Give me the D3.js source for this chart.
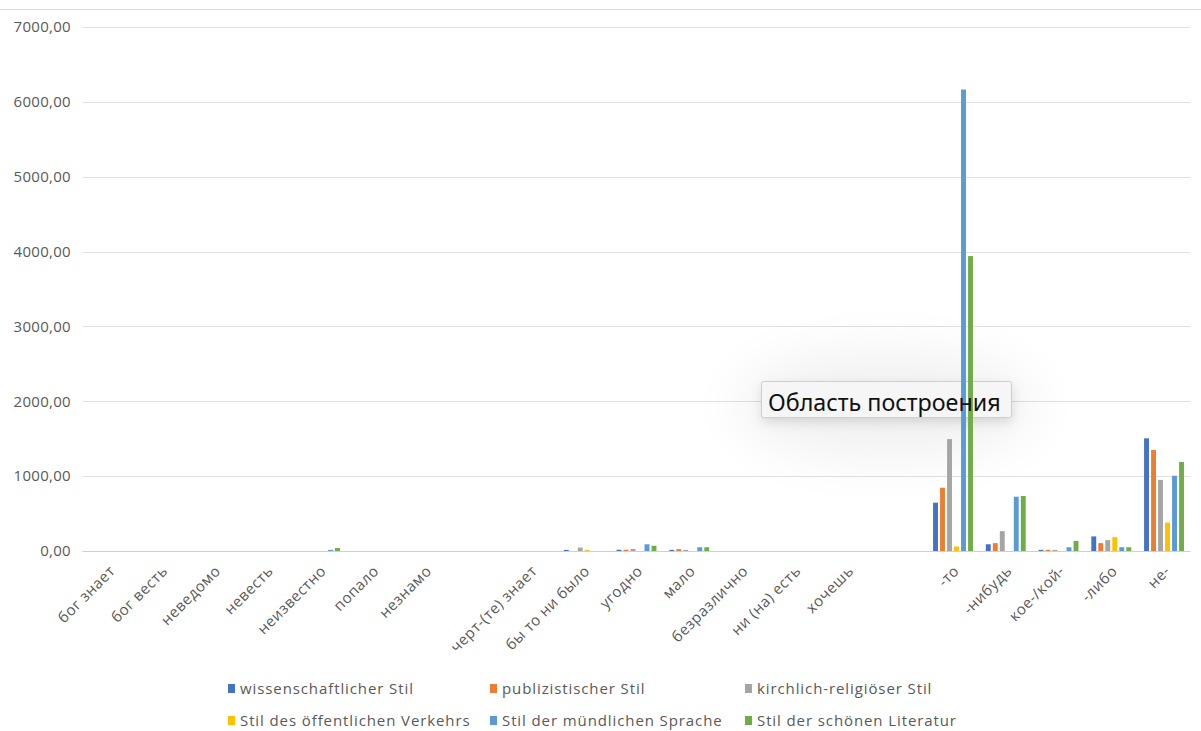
<!DOCTYPE html>
<html>
<head>
<meta charset="utf-8">
<script src="https://cdn.jsdelivr.net/npm/d3@7"></script>
<style>
  html, body { margin: 0; padding: 0; background: #fff; }
  svg { display: block; }
</style>
</head>
<body>
<svg id="chart" width="1201" height="731"></svg>
<script>
// ---- data ----
const categories = ["бог знает","бог весть","неведомо","невесть","неизвестно","попало","незнамо","",
  "черт-(те) знает","бы то ни было","угодно","мало","безразлично","ни (на) есть","хочешь","",
  "-то","-нибудь","кое-/кой-","-либо","не-"];
const seriesNames = ["wissenschaftlicher Stil","publizistischer Stil","kirchlich-religiöser Stil",
  "Stil des öffentlichen Verkehrs","Stil der mündlichen Sprache","Stil der schönen Literatur"];
const seriesColors = ["#4472C4","#ED7D31","#A5A5A5","#FFC000","#5B9BD5","#70AD47"];
const wissenschaftlich = [0,0,0,0,0,0,0,0, 0,15,17,15,0,0,0,0, 645,90,15,195,1505];
const publizistisch    = [0,0,0,0,0,0,0,0, 0,0,17,25,0,0,0,0, 845,105,15,105,1350];
const kirchlich        = [0,0,0,0,0,0,0,0, 0,45,27,15,0,0,0,0, 1495,265,15,145,950];
const oeffentlich      = [0,0,0,0,0,0,0,0, 0,15,0,0,0,0,0,0, 60,0,0,185,380];
const muendlich        = [0,0,0,0,15,0,0,0, 0,0,90,50,0,0,0,0, 6165,725,50,50,1005];
const schoen           = [0,0,0,0,40,0,0,0, 0,0,70,50,0,0,0,0, 3940,735,135,50,1190];
const seriesValues = [wissenschaftlich, publizistisch, kirchlich, oeffentlich, muendlich, schoen];
const yTicks = [0,1000,2000,3000,4000,5000,6000,7000];
const tooltipText = "Область построения";

// ---- layout ----
const svg = d3.select("#chart");
const W = 1201, H = 731;
const x0 = 82.6, x1 = 1190.4, yTop = 27, yBase = 551;
const labelColor = "#595959";
const font = "'Open Sans', 'Noto Sans', sans-serif";

const defs = svg.append("defs");
const blur = defs.append("filter").attr("id","halo").attr("x","-50%").attr("y","-50%").attr("width","200%").attr("height","200%");
blur.append("feGaussianBlur").attr("stdDeviation", 28);
const shadow = defs.append("filter").attr("id","boxshadow").attr("x","-20%").attr("y","-50%").attr("width","140%").attr("height","250%");
shadow.append("feGaussianBlur").attr("stdDeviation", 6);

// top border line
svg.append("line").attr("x1",0).attr("x2",W).attr("y1",9.5).attr("y2",9.5)
  .attr("stroke","#d9d9d9").attr("stroke-width",1);

const x = d3.scaleBand().domain(d3.range(categories.length)).range([x0, x1]).paddingInner(0).paddingOuter(0);
const xs = d3.scaleBand().domain(d3.range(seriesNames.length)).range([0, 42]).paddingInner(0.3).paddingOuter(0.15);
const y = d3.scaleLinear().domain([0, 7000]).range([yBase, yTop]);

// gridlines
svg.append("g").selectAll("line").data(yTicks).join("line")
  .attr("x1", x0).attr("x2", x1)
  .attr("y1", d => Math.round(y(d)) + 0.5).attr("y2", d => Math.round(y(d)) + 0.5)
  .attr("stroke", d => d === 0 ? "#d0d0d0" : "#e0e0e0").attr("stroke-width", 1);

// y axis labels
const yAxis = d3.axisLeft(y).tickValues(yTicks).tickSize(0).tickPadding(0)
  .tickFormat(d => d3.format(".2f")(d).replace(".", ","));
const gy = svg.append("g").attr("transform", `translate(71,0)`).call(yAxis);
gy.select(".domain").remove();
gy.selectAll("text").attr("font-family", font).attr("font-size", 15).attr("letter-spacing", 0.3).attr("fill", labelColor);

// halo behind tooltip
svg.append("ellipse").attr("cx", 886).attr("cy", 405).attr("rx", 150).attr("ry", 52)
  .attr("fill", "#000").attr("opacity", 0.06).attr("filter","url(#halo)");

// tooltip box (under bars)
svg.append("rect").attr("x", 762).attr("y", 386).attr("width", 250).attr("height", 36)
  .attr("fill", "#000").attr("opacity", 0.12).attr("filter","url(#boxshadow)");
svg.append("rect").attr("x", 761.5).attr("y", 381.5).attr("width", 250).attr("height", 36).attr("rx", 2)
  .attr("fill", "#f6f6f6").attr("stroke", "#cfcfcf");

// bars
const groups = svg.append("g").selectAll("g").data(seriesValues).join("g")
  .attr("fill", (d, i) => seriesColors[i]);
groups.each(function(vals, si) {
  d3.select(this).selectAll("rect").data(vals.map((v, ci) => ({v, ci}))).join("rect")
    .filter(d => d.v > 0)
    .attr("x", d => x(d.ci) + x.bandwidth()/2 - 21 + xs(si))
    .attr("width", xs.bandwidth())
    .attr("y", d => y(d.v))
    .attr("height", d => yBase - y(d.v));
});

// tooltip text
svg.append("text").attr("x", 768).attr("y", 411).text(tooltipText)
  .attr("font-family", "'Noto Sans', 'Open Sans', sans-serif").attr("font-size", 23.3).attr("fill", "#111");

// category labels
const xAxis = d3.axisBottom(x).tickSize(0).tickPadding(0).tickFormat(i => categories[i]);
const gx = svg.append("g").attr("transform", `translate(0,${yBase})`).call(xAxis);
gx.select(".domain").remove();
gx.selectAll("text")
  .attr("font-family", font).attr("font-size", 15).attr("letter-spacing", 0.5).attr("fill", labelColor)
  .attr("text-anchor", "end").attr("dy", null).attr("y", 0)
  .attr("transform", "translate(7,21) rotate(-45)");

// legend
const legendPos = [[228,689],[490,689],[745,689],[228,721],[490,721],[745,721]];
const lg = svg.append("g").selectAll("g").data(seriesNames).join("g")
  .attr("transform", (d, i) => `translate(${legendPos[i][0]},${legendPos[i][1]})`);
lg.append("rect").attr("x", 0).attr("y", -5).attr("width", 7).attr("height", 9)
  .attr("fill", (d, i) => seriesColors[i]);
lg.append("text").attr("x", 12).attr("y", 5).text(d => d)
  .attr("font-family", font).attr("font-size", 15).attr("letter-spacing", 0.9).attr("fill", labelColor);
</script>
</body>
</html>
